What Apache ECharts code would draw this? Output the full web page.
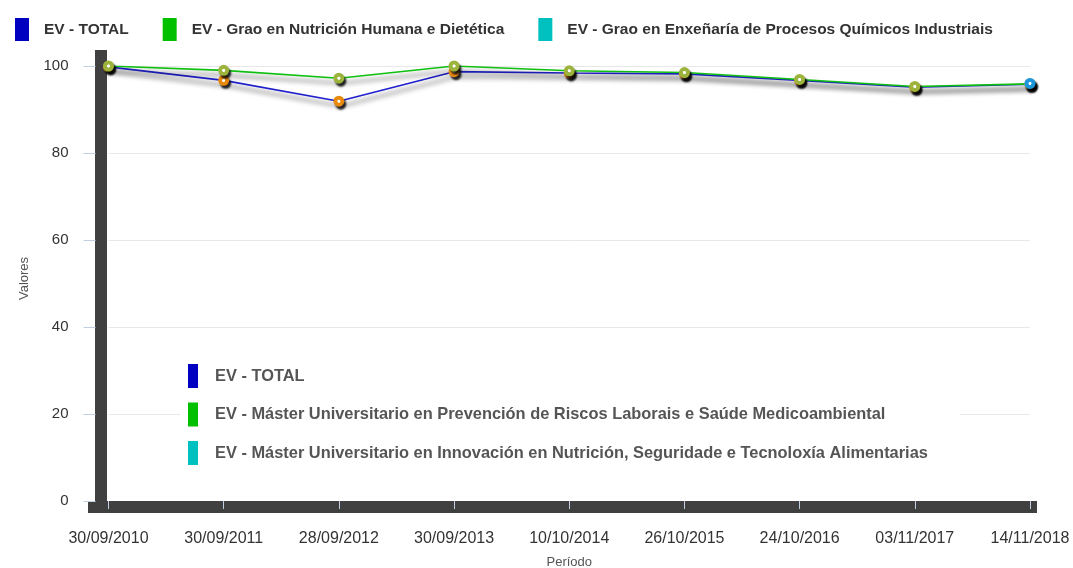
<!DOCTYPE html>
<html lang="es">
<head>
    <meta charset="UTF-8">
    <title>EV - Valores</title>
    <style>
        html, body { margin: 0; padding: 0; background: #fff; }
        #chart { width: 1073px; height: 568px; }
    </style>
</head>
<body>
<div id="chart"></div>
<script src="https://cdn.jsdelivr.net/npm/echarts@6/dist/echarts.min.js"></script>
<script type="text/javascript">
    // periods (x categories)
    var periodos = ['30/09/2010', '30/09/2011', '28/09/2012', '30/09/2013', '10/10/2014',
        '26/10/2015', '24/10/2016', '03/11/2017', '14/11/2018'];

    // series values
    var evTotal = [99.8, 96.7, 91.9, 98.7, 98.4, 98.2, 96.7, 95.1, 95.8];
    var evNutricion = [100, 99.0, 97.2, 100, 98.9, 98.5, 96.9, 95.3, 95.9];
    var evQuimicos = [null, null, null, null, null, null, null, null, 96.0];
    var evPrevencion = [];
    var evInnovacion = [];

    var yTicks = [0, 20, 40, 60, 80, 100];

    var nomes = {
        total: 'EV - TOTAL',
        nutricion: 'EV - Grao en Nutrición Humana e Dietética',
        quimicos: 'EV - Grao en Enxeñaría de Procesos Químicos Industriais',
        prevencion: 'EV - Máster Universitario en Prevención de Riscos Laborais e Saúde Medicoambiental',
        innovacion: 'EV - Máster Universitario en Innovación en Nutrición, Seguridade e Tecnoloxía Alimentarias'
    };

    function bola(c) {
        return {
            type: 'radial', x: 0.5, y: 0.5, r: 0.5,
            colorStops: [
                {offset: 0, color: '#ffffff'},
                {offset: 0.22, color: '#ffffff'},
                {offset: 0.34, color: c},
                {offset: 1, color: c}
            ]
        };
    }

    function linea(name, data, lineColor, dotColor) {
        return {
            name: name,
            type: 'line',
            xAxisIndex: 0,
            yAxisIndex: 0,
            data: data,
            symbol: 'circle',
            symbolSize: 11,
            showAllSymbol: true,
            lineStyle: {
                color: lineColor, width: 1.6,
                shadowColor: 'rgba(0,0,0,0.65)', shadowBlur: 5, shadowOffsetX: 2, shadowOffsetY: 5
            },
            itemStyle: {
                color: bola(dotColor),
                shadowColor: 'rgba(0,0,0,0.85)', shadowBlur: 2, shadowOffsetX: 2, shadowOffsetY: 3
            },
            emphasis: {disabled: true},
            animation: false
        };
    }

    var chart = echarts.init(document.getElementById('chart'));

    var option = {
        backgroundColor: '#fff',
        textStyle: {fontFamily: 'Liberation Sans, Arial, sans-serif'},
        legend: [
            {
                left: 10,
                top: 13,
                icon: 'rect',
                itemWidth: 14,
                itemHeight: 23,
                itemGap: 34,
                textStyle: {fontSize: 15.5, fontWeight: 'bold', color: '#333', padding: [0, 0, 0, 10]},
                data: [
                    {name: nomes.total, itemStyle: {color: '#0000c0'}},
                    {name: nomes.nutricion, itemStyle: {color: '#00c000'}},
                    {name: nomes.quimicos, itemStyle: {color: '#00c0c0'}}
                ]
            },
            {
                left: 180,
                top: 358,
                orient: 'vertical',
                icon: 'rect',
                itemWidth: 10,
                itemHeight: 24,
                itemGap: 14.5,
                backgroundColor: '#fff',
                padding: [6, 32, 6, 8],
                textStyle: {fontSize: 16.4, fontWeight: 'bold', color: '#555', padding: [0, 0, 0, 12]},
                data: [
                    {name: nomes.total, itemStyle: {color: '#0000c0'}},
                    {name: nomes.prevencion, itemStyle: {color: '#00c000'}},
                    {name: nomes.innovacion, itemStyle: {color: '#00c0c0'}}
                ]
            }
        ],
        grid: [
            {left: 108.5, right: 43, top: 66, bottom: 67, outerBoundsMode: 'none'},
            // frame for the heavy axis bars
            {left: 88, right: 36, top: 50, bottom: 61, outerBoundsMode: 'none'}
        ],
        xAxis: [
            {
                type: 'category',
                gridIndex: 0,
                data: periodos,
                boundaryGap: false,
                offset: 12,
                axisLine: {show: false},
                axisTick: {show: true, length: 8, alignWithLabel: true, lineStyle: {color: '#c0d0e0'}},
                axisLabel: {fontSize: 16, color: '#333', margin: 18, interval: 0},
                splitLine: {show: false},
                name: 'Período',
                nameLocation: 'middle',
                nameGap: 43,
                nameTextStyle: {fontSize: 13, color: '#555'}
            },
            {
                type: 'value',
                gridIndex: 1,
                min: 0,
                max: 1,
                axisLine: {show: true, lineStyle: {color: '#404040', width: 12, cap: 'butt'}},
                axisTick: {show: false},
                axisLabel: {show: false},
                splitLine: {show: false}
            }
        ],
        yAxis: [
            {
                type: 'value',
                gridIndex: 0,
                min: yTicks[0],
                max: yTicks[yTicks.length - 1],
                interval: yTicks[1] - yTicks[0],
                offset: 13,
                axisLine: {show: false},
                axisTick: {show: true, length: 12, lineStyle: {color: '#c0d0e0'}},
                axisLabel: {fontSize: 15, color: '#333', margin: 27},
                splitLine: {show: true, lineStyle: {color: '#e8e8e8'}}
            },
            {
                type: 'value',
                gridIndex: 1,
                min: 0,
                max: 1,
                offset: -13,
                axisLine: {show: true, lineStyle: {color: '#404040', width: 12, cap: 'butt'}},
                axisTick: {show: false},
                axisLabel: {show: false},
                splitLine: {show: false},
                name: 'Valores',
                nameLocation: 'middle',
                nameGap: 70,
                nameTextStyle: {fontSize: 13, color: '#555'}
            }
        ],
        series: [
            linea(nomes.total, evTotal, '#2020cc', '#e8890c'),
            linea(nomes.nutricion, evNutricion, '#10c010', '#9cb43c'),
            linea(nomes.quimicos, evQuimicos, '#00c0c0', '#1e96dc'),
            linea(nomes.prevencion, evPrevencion, '#00c000', '#9cb43c'),
            linea(nomes.innovacion, evInnovacion, '#00c0c0', '#1e96dc')
        ]
    };

    chart.setOption(option);
</script>
</body>
</html>
